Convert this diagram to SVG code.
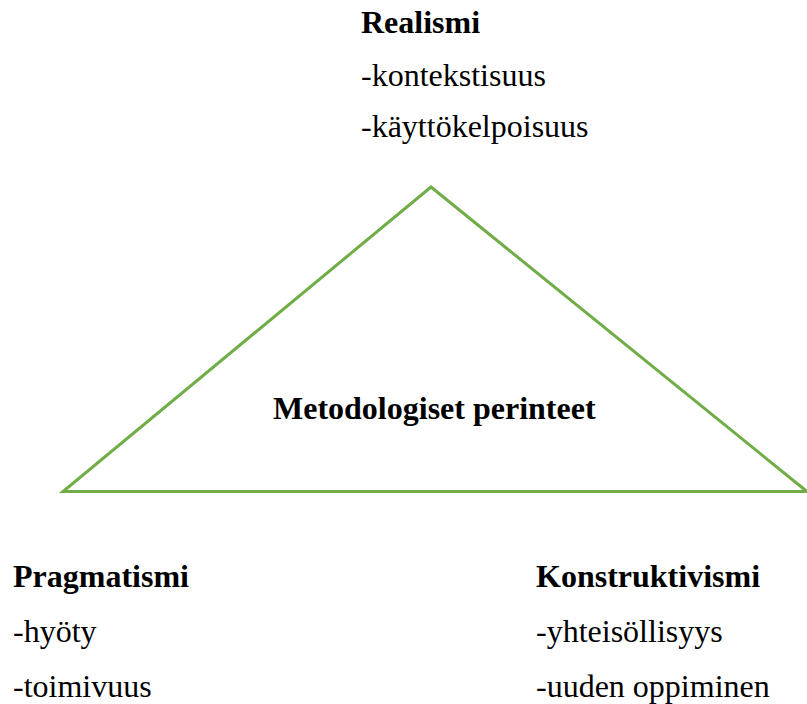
<svg xmlns="http://www.w3.org/2000/svg" width="807" height="704" viewBox="0 0 807 704">
<style>
text{font-family:"Times New Roman","Liberation Serif",serif;font-size:32px;font-weight:normal;fill:#000}
text.b{font-weight:bold}
.tri{fill:none;stroke:#70AD47;stroke-width:3;stroke-linejoin:miter}
</style>
<rect width="807" height="704" fill="#fff"/>
<g id="connectors">
<polygon class="tri" points="431,187 63,491.5 807,491.5"/>
</g>
<g id="center">
<text class="b" x="273" y="419">Metodologiset perinteet</text>
</g>
<g id="realismi">
<text class="b" x="361" y="33">Realismi</text>
<text x="361" y="86">-kontekstisuus</text>
<text x="361" y="137">-käyttökelpoisuus</text>
</g>
<g id="pragmatismi">
<text class="b" x="13" y="587">Pragmatismi</text>
<text x="13" y="642">-hyöty</text>
<text x="13" y="697">-toimivuus</text>
</g>
<g id="konstruktivismi">
<text class="b" x="536" y="587">Konstruktivismi</text>
<text x="536" y="642">-yhteisöllisyys</text>
<text x="536" y="697">-uuden oppiminen</text>
</g>
</svg>
